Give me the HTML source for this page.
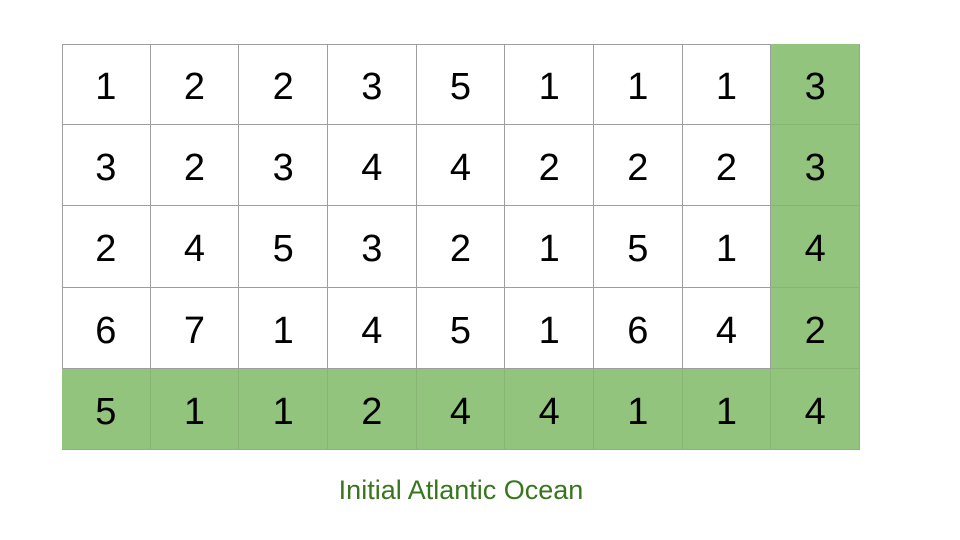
<!DOCTYPE html>
<html><head><meta charset="utf-8">
<style>
html,body{margin:0;padding:0;background:#fff;width:960px;height:540px;overflow:hidden;font-family:"Liberation Sans",Arial,sans-serif;}
#grid{position:absolute;left:62px;top:44px;width:798px;height:406px;}
.cell{position:absolute;box-sizing:border-box;border-right:1px solid #9e9e9e;border-bottom:1px solid #9e9e9e;display:flex;align-items:center;justify-content:center;font-size:38px;color:#000;padding-top:7px;}
.ocean{background:#93c47d;border-color:#88b474;}
#cap{position:absolute;left:0;width:922px;top:475px;text-align:center;font-size:27px;color:#38761d;}
</style></head><body>
<div id="grid"></div>
<div id="cap">Initial Atlantic Ocean</div>
<script>
const rows=[[1,2,2,3,5,1,1,1,3],[3,2,3,4,4,2,2,2,3],[2,4,5,3,2,1,5,1,4],[6,7,1,4,5,1,6,4,2],[5,1,1,2,4,4,1,1,4]];
const oceanRow=4, oceanCol=8;
const g=document.getElementById('grid');
g.style.borderLeft='1px solid #9e9e9e';g.style.borderTop='1px solid #9e9e9e';g.style.boxSizing='border-box';
const W=798/9,H=406/5;
rows.forEach((r,i)=>r.forEach((v,j)=>{
  const d=document.createElement('div');
  d.className='cell'+((i===oceanRow||j===oceanCol)?' ocean':'');
  d.style.left=(j*W-1)+'px';d.style.top=(i*H-1)+'px';d.style.width=W+'px';d.style.height=H+'px';
  d.textContent=v;
  
  
  g.appendChild(d);
}));
</script>
</body></html>
